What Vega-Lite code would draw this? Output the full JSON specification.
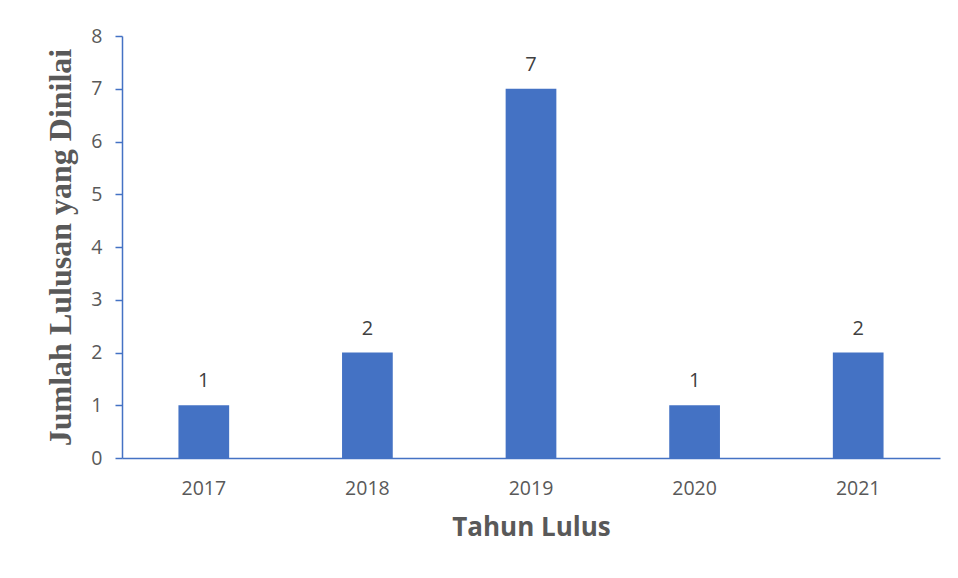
{
  "$schema": "https://vega.github.io/schema/vega-lite/v6.json",
  "autosize": {"type": "none"},
  "padding": {"left": 122, "top": 36, "right": 18, "bottom": 120},
  "width": 818,
  "height": 422,
  "background": "white",
  "config": {"view": {"stroke": null}},
  "data": {"values": [
    {"tahun": "2017", "jumlah": 1},
    {"tahun": "2018", "jumlah": 2},
    {"tahun": "2019", "jumlah": 7},
    {"tahun": "2020", "jumlah": 1},
    {"tahun": "2021", "jumlah": 2}
  ]},
  "encoding": {
    "x": {"field": "tahun", "type": "nominal", "scale": {"paddingInner": 0, "paddingOuter": 0},
      "axis": {"title": "Tahun Lulus", "labelAngle": 0, "ticks": false, "domainColor": "#4472C4", "domainWidth": 1.5,
        "labelFont": "Open Sans", "labelFontSize": 19.5, "labelColor": "#595959", "labelPadding": 21,
        "titleFont": "Open Sans", "titleFontSize": 26, "titleFontWeight": "bold", "titleColor": "#595959", "titlePadding": 17}},
    "y": {"field": "jumlah", "type": "quantitative", "scale": {"domain": [0, 8], "nice": false},
      "axis": {"title": "Jumlah Lulusan yang Dinilai", "values": [0,1,2,3,4,5,6,7,8], "grid": false,
        "domainColor": "#4472C4", "domainWidth": 1.5, "tickColor": "#4472C4", "tickWidth": 1.5, "tickSize": 7,
        "labelFont": "Open Sans", "labelFontSize": 19.5, "labelColor": "#595959", "labelPadding": 13,
        "titleFont": "Liberation Serif", "titleFontSize": 32, "titleFontWeight": "bold", "titleColor": "#595959", "titlePadding": 13}}
  },
  "layer": [
    {"mark": {"type": "bar", "color": "#4472C4", "width": {"band": 0.31}}},
    {"mark": {"type": "text", "baseline": "alphabetic", "dy": -18, "font": "Open Sans", "fontSize": 20, "color": "#404040"},
      "encoding": {"text": {"field": "jumlah", "type": "quantitative"}}}
  ]
}
